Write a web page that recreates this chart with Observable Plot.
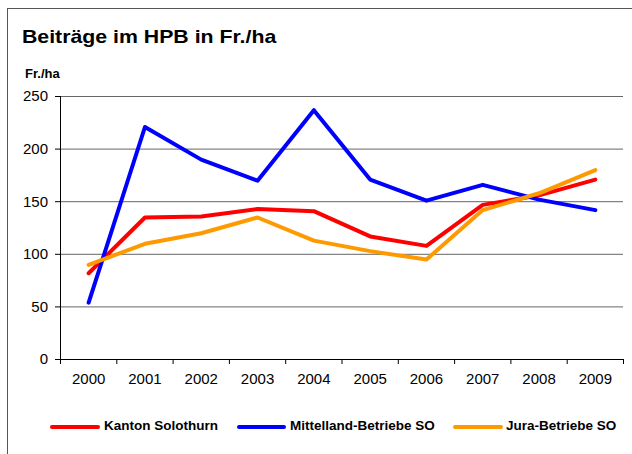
<!DOCTYPE html>
<html>
<head>
<meta charset="utf-8">
<script src="https://cdn.jsdelivr.net/npm/d3@7"></script>
<script src="https://cdn.jsdelivr.net/npm/@observablehq/plot@0.6"></script>
<style>
  html, body { margin: 0; padding: 0; background: #fff; }
  #wrap { position: relative; width: 632px; height: 454px; overflow: hidden; font-family: "Liberation Sans", Arial, sans-serif; color: #000; }
  #frame { position: absolute; left: 7px; top: 8px; width: 640px; height: 460px; border-top: 1px solid #555; border-left: 1px solid #555; }
  #title { position: absolute; left: 22px; top: 26.5px; font-size: 19px; line-height: 19px; font-weight: bold; white-space: nowrap; transform: scaleX(1.12); transform-origin: left top; }
  #unit { position: absolute; left: 25px; top: 67.3px; font-size: 13px; line-height: 13px; font-weight: bold; white-space: nowrap; }
  #chart { position: absolute; left: 0; top: 0; }
  .sw { position: absolute; height: 4px; top: 424.7px; border-radius: 2px; }
  .lt { position: absolute; top: 419.3px; font-size: 13.5px; line-height: 14px; font-weight: bold; white-space: nowrap; }
</style>
</head>
<body>
<div id="wrap">
  <div id="frame"></div>
  <div id="chart"></div>
  <div id="title"></div>
  <div id="unit"></div>
  <div id="legend"></div>
</div>
<script>
const titleText = "Beiträge im HPB in Fr./ha";
const unitText = "Fr./ha";
const years = [2000, 2001, 2002, 2003, 2004, 2005, 2006, 2007, 2008, 2009];
const seriesNames = ["Kanton Solothurn", "Mittelland-Betriebe SO", "Jura-Betriebe SO"];
const seriesColors = ["#ff0000", "#0000ff", "#ff9900"];
const kanton = [82, 135, 136, 143, 141, 117, 108, 147, 156, 171];
const mittelland = [54, 221, 190, 170, 237, 171, 151, 166, 152, 142];
const jura = [90, 110, 120, 135, 113, 103, 95, 142, 158, 180];
const yTicks = [0, 50, 100, 150, 200, 250];

const seriesValues = [kanton, mittelland, jura];
const data = [];
seriesNames.forEach((name, i) => {
  years.forEach((yr, j) => data.push({ series: name, year: yr, value: seriesValues[i][j] }));
});
const bounds = years.map(y => y - 0.5).concat([years[years.length - 1] + 0.5]);

document.getElementById("title").textContent = titleText;
document.getElementById("unit").textContent = unitText;

const chart = Plot.plot({
  width: 632,
  height: 454,
  marginLeft: 60,
  marginRight: 9,
  marginTop: 96,
  marginBottom: 95,
  style: { fontFamily: "'Liberation Sans', Arial, sans-serif", fontSize: "15px", color: "#000", background: "transparent" },
  x: { type: "linear", domain: [bounds[0], bounds[bounds.length - 1]] },
  y: { domain: [0, 250] },
  color: { domain: seriesNames, range: seriesColors },
  marks: [
    Plot.ruleY(yTicks.filter(d => d > 0), { stroke: "#666", strokeWidth: 1 }),
    Plot.ruleY([0], { stroke: "#000", strokeWidth: 1 }),
    Plot.ruleX([bounds[0]], { y1: 0, y2: 250, stroke: "#000", strokeWidth: 1 }),
    Plot.axisY({ ticks: yTicks, tickSize: 5, tickPadding: 7.5, label: null, tickFormat: d => String(d) }),
    Plot.axisX({ ticks: bounds, tickSize: 5, tickFormat: () => "", label: null }),
    Plot.axisX({ ticks: years, tickSize: 0, tickPadding: 14, tickFormat: d => String(d), label: null }),
    Plot.line(data, { x: "year", y: "value", z: "series", stroke: "series", strokeWidth: 4, strokeLinecap: "round", strokeLinejoin: "round" })
  ]
});
document.getElementById("chart").appendChild(chart);

// legend
const legendLayout = [
  { sw: 50, sww: 50, tx: 104 },
  { sw: 237, sww: 49, tx: 290 },
  { sw: 453, sww: 50, tx: 506 }
];
const legend = document.getElementById("legend");
seriesNames.forEach((name, i) => {
  const s = document.createElement("div");
  s.className = "sw";
  s.style.left = legendLayout[i].sw + "px";
  s.style.width = legendLayout[i].sww + "px";
  s.style.background = seriesColors[i];
  legend.appendChild(s);
  const t = document.createElement("div");
  t.className = "lt";
  t.style.left = legendLayout[i].tx + "px";
  t.textContent = name;
  legend.appendChild(t);
});
</script>
</body>
</html>
